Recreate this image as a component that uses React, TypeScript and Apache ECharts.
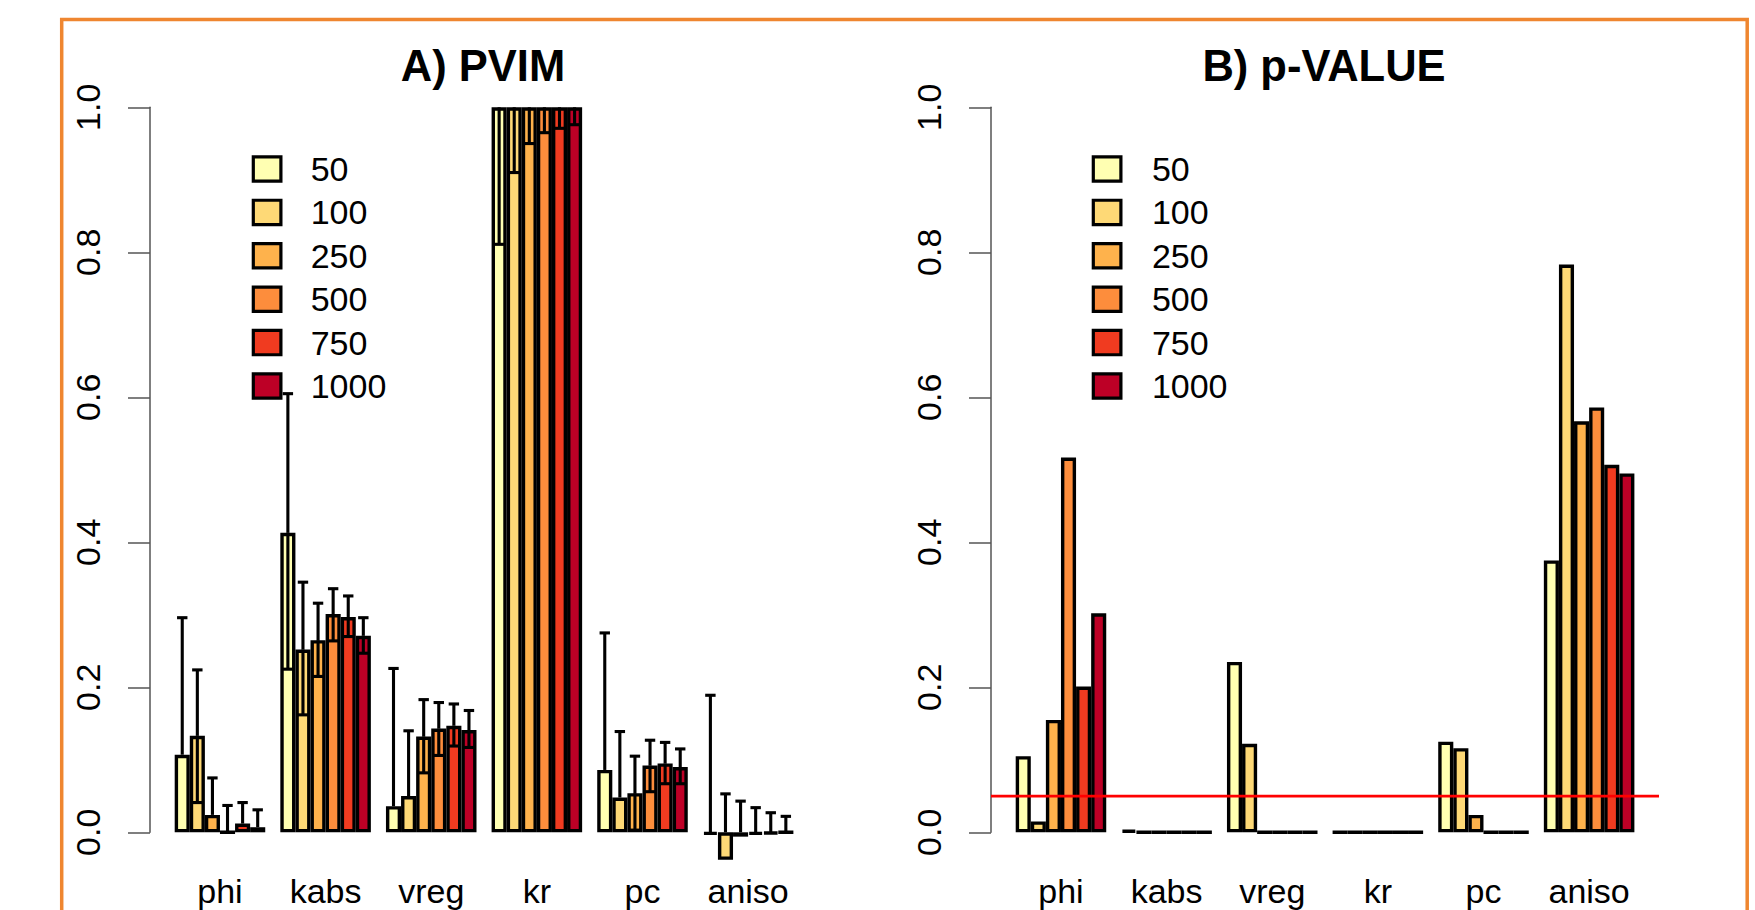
import React, { useEffect, useRef } from "react";
import * as echarts from "echarts";

const categories = ["phi", "kabs", "vreg", "kr", "pc", "aniso"];
const sampleSizes = ["50", "100", "250", "500", "750", "1000"];
const sizeColors = ["#FFFFB2", "#FED976", "#FEB24C", "#FD8D3C", "#F03B20", "#BD0026"];
const pLine = 0.05;

// PVIM values: one row per sample size, columns follow categories
const pvim50 = [0.107, 0.413, 0.036, 1.0, 0.086, -0.003];
const pvim100 = [0.133, 0.252, 0.05, 1.0, 0.048, -0.038];
const pvim250 = [0.024, 0.265, 0.132, 1.0, 0.054, -0.006];
const pvim500 = [0.0, 0.301, 0.143, 1.0, 0.092, -0.003];
const pvim750 = [0.012, 0.297, 0.147, 1.0, 0.095, -0.002];
const pvim1000 = [0.007, 0.271, 0.141, 1.0, 0.09, 0.0];

// error bar upper ends (null = beyond the axis)
const upper50 = [0.296, 0.605, 0.226, null, 0.275, 0.189];
const upper100 = [0.224, 0.345, 0.14, null, 0.139, 0.053];
const upper250 = [0.075, 0.316, 0.183, null, 0.105, 0.043];
const upper500 = [0.037, 0.336, 0.179, null, 0.127, 0.034];
const upper750 = [0.041, 0.326, 0.177, null, 0.124, 0.027];
const upper1000 = [0.031, 0.296, 0.168, null, 0.115, 0.022];

// error bar lower ends (null = below zero, not drawn)
const lower50 = [null, 0.225, null, 0.811, null, null];
const lower100 = [0.041, 0.162, null, 0.91, null, null];
const lower250 = [null, 0.215, 0.082, 0.95, 0.003, null];
const lower500 = [null, 0.264, 0.106, 0.965, 0.056, null];
const lower750 = [null, 0.27, 0.119, 0.971, 0.067, null];
const lower1000 = [null, 0.247, 0.117, 0.976, 0.067, null];

// p-values
const pval50 = [0.105, 0.003, 0.235, 0.0, 0.125, 0.375];
const pval100 = [0.015, 0.0, 0.122, 0.0, 0.116, 0.783];
const pval250 = [0.155, 0.0, 0.0, 0.0, 0.024, 0.567];
const pval500 = [0.517, 0.0, 0.0, 0.0, 0.0, 0.586];
const pval750 = [0.201, 0.0, 0.0, 0.0, 0.0, 0.507];
const pval1000 = [0.302, 0.0, 0.0, 0.0, 0.0, 0.495];

const pvimRows = [pvim50, pvim100, pvim250, pvim500, pvim750, pvim1000];
const upperRows = [upper50, upper100, upper250, upper500, upper750, upper1000];
const lowerRows = [lower50, lower100, lower250, lower500, lower750, lower1000];
const pvalRows = [pval50, pval100, pval250, pval500, pval750, pval1000];

const FONT = "'Liberation Sans', Arial, Helvetica, sans-serif";

export default function App() {
  const ref = useRef<HTMLDivElement>(null);

  useEffect(() => {
    if (!ref.current) return;
    const chart = echarts.init(ref.current, undefined, { renderer: "svg" });

    const gridTop = 107.3;
    const gridH = 725;
    const unit = 15.09;
    const catW = unit * 7;
    const leftAxisX = 150;
    const rightAxisX = 991;
    const regionW = 668;
    const barsStartOffset = 24.7 - unit / 2;
    const strokeW = 3.4;

    const grids = [
      { left: leftAxisX + barsStartOffset, top: gridTop, width: catW * 6, height: gridH, outerBoundsMode: "none", containLabel: false },
      { left: rightAxisX + barsStartOffset, top: gridTop, width: catW * 6, height: gridH, outerBoundsMode: "none", containLabel: false },
      { left: rightAxisX, top: gridTop, width: regionW, height: gridH, outerBoundsMode: "none", containLabel: false },
    ];

    const yAxisBase = (gi: number) => ({
      type: "value",
      gridIndex: gi,
      min: 0,
      max: 1,
      interval: 0.2,
      offset: barsStartOffset,
      axisLine: { show: true, lineStyle: { color: "#555", width: 1.5 } },
      axisTick: { show: true, length: 22, lineStyle: { color: "#555", width: 1.5 } },
      axisLabel: {
        rotate: 90,
        margin: 45,
        fontSize: 34,
        color: "#000",
        fontFamily: FONT,
        formatter: (v: number) => v.toFixed(1),
      },
      splitLine: { show: false },
    });

    const xAxisBase = (gi: number) => ({
      type: "category",
      gridIndex: gi,
      data: categories,
      axisLine: { show: false },
      axisTick: { show: false },
      axisLabel: { fontSize: 34, color: "#000", fontFamily: FONT, margin: 42, interval: 0 },
    });

    const barSeries = (rows: number[][], gi: number) =>
      rows.map((row, j) => ({
        type: "bar",
        name: sampleSizes[j],
        xAxisIndex: gi,
        yAxisIndex: gi,
        data: row,
        barWidth: unit,
        barGap: "0%",
        clip: false,
        z: 2,
        itemStyle: { color: sizeColors[j], borderColor: "#000", borderWidth: strokeW },
      }));

    const errData: any[] = [];
    pvimRows.forEach((row, j) => {
      row.forEach((v, i) => {
        errData.push([i, j, v, lowerRows[j][i], upperRows[j][i]]);
      });
    });

    const errSeries = {
      type: "custom",
      name: "err",
      xAxisIndex: 0,
      yAxisIndex: 0,
      z: 5,
      clip: false,
      encode: { x: 0, y: 2 },
      data: errData,
      renderItem: (params: any, api: any) => {
        const ci = api.value(0);
        const si = api.value(1);
        const v = api.value(2);
        const lo = api.value(3);
        const hi = api.value(4);
        const bw = api.size([1, 0])[0] / 7;
        const cx = api.coord([ci, 0])[0] + (si - 2.5) * bw;
        const yv = api.coord([ci, Math.max(v, 0)])[1];
        const half = 5.2;
        const st = { stroke: "#000", lineWidth: 3.1 };
        const children: any[] = [];
        if (hi != null && !isNaN(hi)) {
          const yh = api.coord([ci, hi])[1];
          children.push({ type: "line", shape: { x1: cx, y1: yv, x2: cx, y2: yh }, style: st });
          children.push({ type: "line", shape: { x1: cx - half, y1: yh, x2: cx + half, y2: yh }, style: st });
        }
        if (lo != null && !isNaN(lo)) {
          const yl = api.coord([ci, lo])[1];
          children.push({ type: "line", shape: { x1: cx, y1: yv, x2: cx, y2: yl }, style: st });
          children.push({ type: "line", shape: { x1: cx - half, y1: yl, x2: cx + half, y2: yl }, style: st });
        }
        return { type: "group", children };
      },
    };

    const legendBase = (left: number, textPad: number) => ({
      data: sampleSizes,
      left,
      top: 148,
      orient: "vertical",
      icon: "rect",
      itemWidth: 27.6,
      itemHeight: 24.3,
      itemGap: 1.4,
      padding: 0,
      selectedMode: false,
      itemStyle: { borderColor: "#000", borderWidth: 3.2 },
      textStyle: { fontSize: 34, color: "#000", fontFamily: FONT, lineHeight: 34, padding: [8, 0, 0, textPad] },
    });

    const option: any = {
      animation: false,
      backgroundColor: "#fff",
      textStyle: { fontFamily: FONT },
      title: [
        {
          text: "A) PVIM",
          left: 483,
          top: 43.5,
          textAlign: "center",
          padding: 0,
          textStyle: { fontSize: 43.5, fontWeight: "bold", color: "#000", fontFamily: FONT },
        },
        {
          text: "B) p-VALUE",
          left: 1324,
          top: 43.5,
          textAlign: "center",
          padding: 0,
          textStyle: { fontSize: 43.5, fontWeight: "bold", color: "#000", fontFamily: FONT },
        },
      ],
      legend: [legendBase(251.7, 24.8), legendBase(1091.7, 26)],
      grid: grids,
      xAxis: [
        xAxisBase(0),
        xAxisBase(1),
        { type: "value", gridIndex: 2, min: 0, max: 1, show: false },
      ],
      yAxis: [
        yAxisBase(0),
        yAxisBase(1),
        { type: "value", gridIndex: 2, min: 0, max: 1, show: false },
      ],
      series: [
        ...barSeries(pvimRows, 0),
        ...barSeries(pvalRows, 1),
        errSeries,
        {
          type: "line",
          name: "threshold",
          xAxisIndex: 2,
          yAxisIndex: 2,
          data: [
            [0, pLine],
            [1, pLine],
          ],
          symbol: "none",
          z: 10,
          lineStyle: { color: "#FF0000", width: 2.7 },
        },
      ],
      graphic: [
        {
          type: "rect",
          silent: true,
          z: 100,
          shape: { x: 61.7, y: 19.5, width: 1685.5, height: 1000 },
          style: { fill: "none", stroke: "#EF8630", lineWidth: 3.5 },
        },
      ],
    };

    chart.setOption(option);
    return () => chart.dispose();
  }, []);

  return (
    <div
      ref={ref}
      style={{ position: "absolute", left: 0, top: 0, width: 1755, height: 910, background: "#fff" }}
    />
  );
}
